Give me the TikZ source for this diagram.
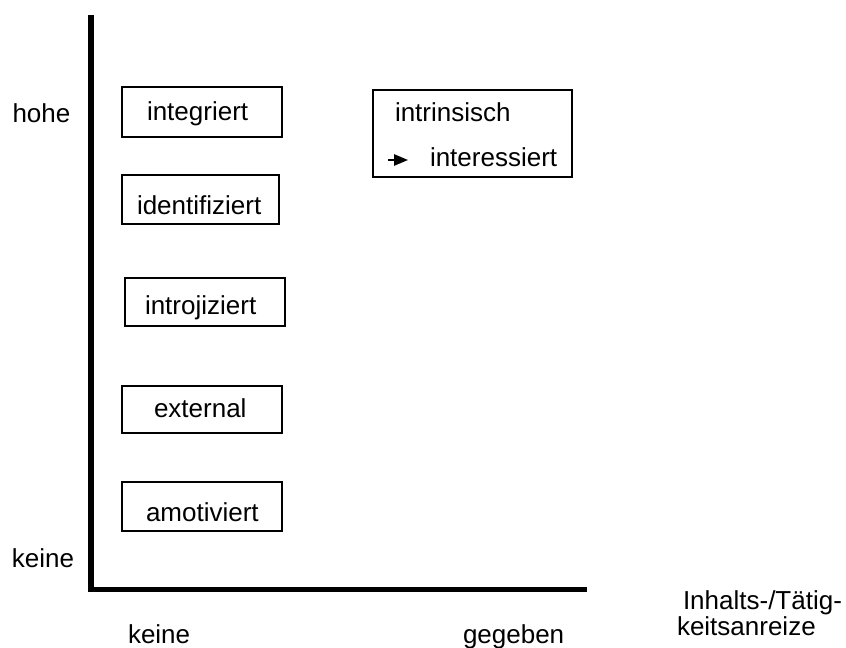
\documentclass[tikz,border=0pt]{standalone}
\usepackage{fontspec}
\setmainfont{Liberation Sans}
\usetikzlibrary{arrows.meta}
\tikzset{
  lbl/.style={inner sep=0pt, outer sep=0pt, anchor=base west, font=\fontsize{19.5pt}{23pt}\selectfont},
  box/.style={draw, line width=1.5pt, inner sep=0pt, outer sep=0pt, minimum width=#1},
  axis/.style={line width=4.2pt, line join=miter},
  pointer/.style={line width=1.3pt, -{Triangle[length=10.5pt,width=8.5pt]}}
}
\begin{document}
\begin{tikzpicture}[x=0.75pt,y=-0.75pt]
\useasboundingbox (0,0) rectangle (846,648);
% axes
\coordinate (ytop) at (91,15);
\coordinate (orig) at (91,589.5);
\coordinate (xend) at (587,589.5);
\draw[axis] (ytop) -- (orig) -- (xend);
% boxes
\node[box=120pt, minimum height=37.5pt] (bint) at (202,112) {};
\node[box=117.75pt, minimum height=36.75pt] (bide) at (200.5,199.5) {};
\node[box=120pt, minimum height=36pt] (bintro) at (205,302) {};
\node[box=120pt, minimum height=35.25pt] (bext) at (202,409.5) {};
\node[box=120pt, minimum height=36.75pt] (bamo) at (202,506.5) {};
\node[box=149.25pt, minimum height=65.25pt] (bintr) at (472.5,133.5) {};
% box texts
\node[lbl] (tint) at (147,121) {integriert};
\node[lbl] (tide) at (137,215) {identifiziert};
\node[lbl] (tintro) at (145,315) {introjiziert};
\node[lbl] (text) at (154,418) {external};
\node[lbl] (tamo) at (146,521) {amotiviert};
\node[lbl] (tintr) at (395,122) {intrinsisch};
\node[lbl] (tinte) at (430,167) {interessiert};
\coordinate (as) at (388,160);
\coordinate (ae) at (408,160);
\draw[pointer] (as) -- (ae);
% axis labels
\node[lbl] (hohe) at (12.5,123) {hohe};
\node[lbl] (keiney) at (12,567) {keine};
\node[lbl] (keinex) at (128,643) {keine};
\node[lbl] (gegeben) at (463,643) {gegeben};
\node[lbl] (inh1) at (683,609.5) {Inhalts-/Tätig-};
\node[lbl] (inh2) at (677,635) {keitsanreize};
\end{tikzpicture}
\end{document}
